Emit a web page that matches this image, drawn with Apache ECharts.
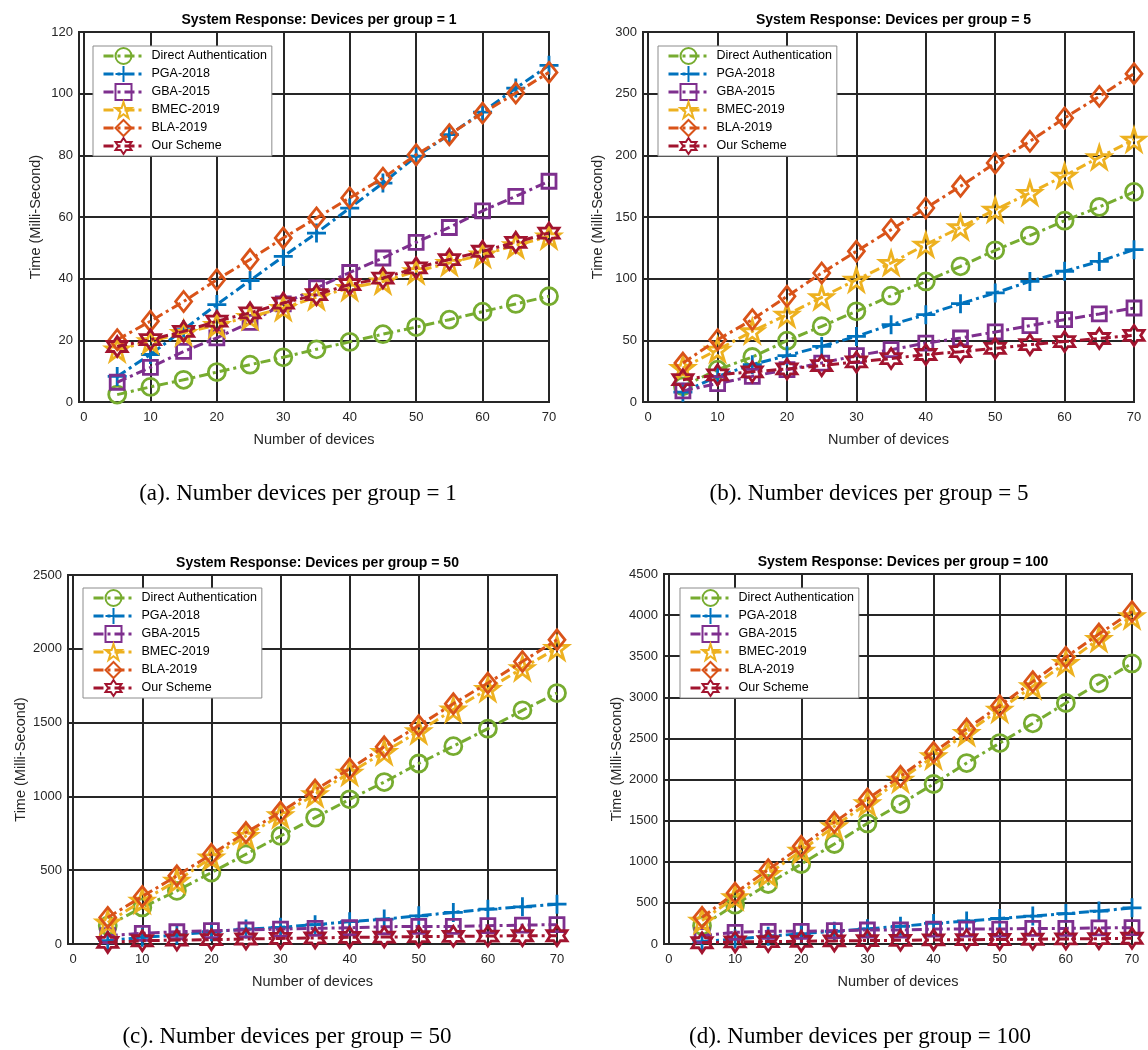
<!DOCTYPE html>
<html>
<head>
<meta charset="utf-8">
<script src="https://cdn.jsdelivr.net/npm/echarts@6/dist/echarts.min.js"></script>
<style>
html,body{margin:0;padding:0;background:#fff;}
#chart{width:1148px;height:1050px;}
</style>
</head>
<body>
<div id="chart"></div>
<script>
// ---------- data ----------
const devices = [5, 10, 15, 20, 25, 30, 35, 40, 45, 50, 55, 60, 65, 70];
const seriesNames = ['Direct Authentication', 'PGA-2018', 'GBA-2015', 'BMEC-2019', 'BLA-2019', 'Our Scheme'];
const xTicks = [0, 10, 20, 30, 40, 50, 60, 70];

// (a) devices per group = 1
const directA = [2.4, 4.9, 7.2, 9.7, 12.1, 14.5, 17.1, 19.5, 22.0, 24.3, 26.7, 29.3, 31.8, 34.3];
const pgaA    = [8.3, 15.4, 23.5, 31.6, 39.4, 47.2, 54.8, 62.9, 71.0, 79.7, 86.7, 94.0, 101.8, 109.2];
const gbaA    = [6.4, 11.2, 16.4, 20.8, 25.8, 31.8, 37.0, 42.0, 46.7, 51.8, 56.6, 62.0, 66.7, 71.6];
const bmecA   = [17.0, 19.7, 22.4, 25.0, 27.6, 30.5, 34.0, 37.0, 39.1, 42.4, 45.1, 47.8, 50.8, 53.7];
const blaA    = [20.2, 26.2, 32.6, 39.7, 46.2, 53.2, 59.7, 66.2, 72.6, 80.2, 86.7, 93.7, 100.2, 106.9];
const oursA   = [18.0, 20.2, 22.9, 26.2, 28.9, 32.1, 34.8, 38.1, 40.2, 43.5, 46.2, 48.9, 51.8, 54.8];

// (b) devices per group = 5
const directB = [12.7, 26.2, 36.5, 49.7, 61.4, 73.5, 86.2, 97.8, 110.0, 123.0, 134.9, 147.0, 158.1, 170.3];
const pgaB    = [8.0, 20.8, 30.3, 37.6, 45.1, 53.2, 62.7, 70.8, 79.7, 88.4, 97.8, 106.0, 114.0, 123.5];
const gbaB    = [9.0, 14.9, 20.8, 26.2, 31.6, 37.6, 42.4, 47.8, 51.9, 56.8, 61.9, 66.8, 71.4, 76.2];
const bmecB   = [27.6, 42.4, 57.3, 70.8, 84.9, 99.2, 112.7, 127.6, 141.6, 155.9, 169.5, 183.5, 198.4, 212.7];
const blaB    = [31.6, 50.5, 66.8, 85.7, 104.6, 122.2, 139.7, 157.3, 174.9, 193.8, 211.4, 230.3, 247.8, 266.2];
const oursB   = [18.1, 22.0, 24.5, 26.8, 29.5, 32.5, 35.2, 38.5, 40.8, 43.5, 46.5, 49.0, 51.5, 54.0];

// (c) devices per group = 50
const directC = [124, 248, 360, 484, 608, 732, 856, 980, 1097, 1223, 1340, 1459, 1583, 1700];
const pgaC    = [23, 45, 61, 83, 101, 113, 131, 151, 169, 191, 214, 236, 252, 270];
const gbaC    = [56, 72, 83, 90, 95, 101, 106, 110, 117, 119, 119, 124, 128, 131];
const bmecC   = [146, 293, 428, 586, 732, 872, 1014, 1160, 1300, 1441, 1588, 1727, 1869, 2005];
const blaC    = [180, 322, 462, 608, 755, 894, 1043, 1187, 1336, 1480, 1628, 1768, 1914, 2061];
const oursC   = [11, 22, 27, 29, 34, 38, 41, 45, 47, 50, 52, 54, 56, 56];

// (d) devices per group = 100
const directD = [223, 478, 730, 973, 1216, 1467, 1702, 1946, 2201, 2444, 2684, 2931, 3170, 3413];
const pgaD    = [30, 60, 95, 125, 155, 185, 215, 250, 280, 310, 340, 370, 400, 440];
const gbaD    = [101, 142, 154, 154, 162, 170, 170, 182, 182, 182, 190, 190, 195, 199];
const bmecD   = [284, 568, 851, 1135, 1431, 1711, 1999, 2282, 2566, 2850, 3134, 3418, 3710, 3985];
const blaD    = [324, 620, 904, 1188, 1480, 1764, 2039, 2331, 2615, 2899, 3191, 3487, 3770, 4042];
const oursD   = [15, 25, 30, 33, 38, 42, 45, 50, 52, 55, 58, 62, 65, 70];

const panelTitles = [
  'System Response: Devices per group = 1',
  'System Response: Devices per group = 5',
  'System Response: Devices per group = 50',
  'System Response: Devices per group = 100'
];
const captions = [
  '(a). Number devices per group = 1',
  '(b). Number devices per group = 5',
  '(c). Number devices per group = 50',
  '(d). Number devices per group = 100'
];
const yMax = [120, 300, 2500, 4500];
const yStep = [20, 50, 500, 500];

// ---------- styles ----------
const colors = ['#77AC30', '#0072BD', '#7E2F8E', '#EDB120', '#D95319', '#A2142F'];
const symbols = [
  'circle',
  'path://M50,0 L50,100 M0,50 L100,50',
  'rect',
  'path://M50,0 L61.23,34.55 L97.55,34.55 L68.17,55.9 L79.39,90.45 L50,69.1 L20.61,90.45 L31.83,55.9 L2.45,34.55 L38.77,34.55 Z',
  'diamond',
  'path://M50,0 L64.43,25 L93.3,25 L78.87,50 L93.3,75 L64.43,75 L50,100 L35.57,75 L6.7,75 L21.13,50 L6.7,25 L35.57,25 Z'
];
const symbolSizes = [17, 19, 14, 22, [16, 20], 20];

const panels = [
  [directA, pgaA, gbaA, bmecA, blaA, oursA],
  [directB, pgaB, gbaB, bmecB, blaB, oursB],
  [directC, pgaC, gbaC, bmecC, blaC, oursC],
  [directD, pgaD, gbaD, bmecD, blaD, oursD]
];

const grids = [
  { left: 79, top: 32, width: 470, height: 370 },
  { left: 643, top: 32, width: 491, height: 370 },
  { left: 68, top: 575, width: 489, height: 369 },
  { left: 664, top: 574, width: 468, height: 370 }
];
const yNameGaps = [36, 38, 40, 40];
const legendPos = [
  { left: 93, top: 46 },
  { left: 658, top: 46 },
  { left: 83, top: 588 },
  { left: 680, top: 588 }
];
const captionPos = [[298, 494], [869, 494], [287, 1037], [860, 1037]];

const txt = '#262626';
const font = 'Liberation Sans, Arial, sans-serif';

const option = {
  backgroundColor: '#fff',
  animation: false,
  title: grids.map((g, i) => ({
    text: panelTitles[i],
    left: g.left + g.width / 2,
    top: g.top - 24,
    textAlign: 'center',
    textStyle: { fontFamily: font, fontSize: 14, fontWeight: 'bold', color: '#000' }
  })),
  grid: grids.map(g => Object.assign({ show: true, borderColor: '#262626', borderWidth: 2, backgroundColor: '#fff' }, g)),
  legend: legendPos.map((p, i) => ({
    left: p.left, top: p.top, orient: 'vertical',
    data: seriesNames,
    itemWidth: 40, itemHeight: 20, itemGap: 0,
    padding: [1, 5, 1, 9],
    backgroundColor: '#fff', borderColor: '#8c8c8c', borderWidth: 1,
    lineStyle: { width: 3 },
    textStyle: { fontFamily: font, fontSize: 12.5, color: '#000', lineHeight: 14, padding: [0, 0, 0, 3] },
    selectedMode: false
  })),
  xAxis: grids.map((g, i) => ({
    type: 'value', gridIndex: i, min: -0.75, max: 70,
    name: 'Number of devices', nameLocation: 'middle', nameGap: 30,
    nameTextStyle: { fontFamily: font, fontSize: 14.5, color: txt },
    axisLine: { show: false },
    axisTick: { show: false, customValues: xTicks },
    axisLabel: { customValues: xTicks, fontFamily: font, fontSize: 13, color: txt, margin: 9 },
    splitLine: { show: true, lineStyle: { color: '#262626', width: 2 } }
  })),
  yAxis: grids.map((g, i) => ({
    type: 'value', gridIndex: i, min: 0, max: yMax[i], interval: yStep[i],
    name: 'Time (Milli-Second)', nameLocation: 'middle', nameGap: yNameGaps[i],
    nameTextStyle: { fontFamily: font, fontSize: 14.5, color: txt },
    axisLine: { show: false },
    axisTick: { show: false },
    axisLabel: { fontFamily: font, fontSize: 13, color: txt, margin: 6, formatter: v => String(v) },
    splitLine: { show: true, lineStyle: { color: '#262626', width: 2 } }
  })),
  series: [],
  graphic: captions.map((c, i) => ({
    type: 'text', x: captionPos[i][0], y: captionPos[i][1],
    style: { text: c, font: '23px "Liberation Serif", "Times New Roman", serif', fill: '#000', textAlign: 'center', textVerticalAlign: 'middle' }
  }))
};

panels.forEach((vals, p) => {
  vals.forEach((arr, s) => {
    option.series.push({
      name: seriesNames[s], type: 'line', xAxisIndex: p, yAxisIndex: p,
      data: devices.map((x, k) => [x, arr[k]]),
      symbol: symbols[s], symbolSize: symbolSizes[s],
      showAllSymbol: true,
      lineStyle: { color: colors[s], width: 3, type: [10, 4, 3, 4], cap: 'butt' },
      itemStyle: { color: 'rgba(255,255,255,0)', borderColor: colors[s], borderWidth: 2.8 },
      emphasis: { disabled: true },
      z: 3 + s
    });
  });
});

const chart = echarts.init(document.getElementById('chart'), null, { renderer: 'canvas' });
chart.setOption(option);
</script>
</body>
</html>
